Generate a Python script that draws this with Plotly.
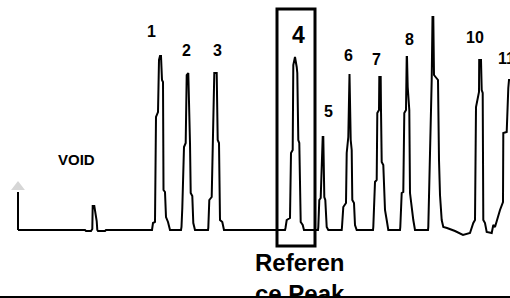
import plotly.graph_objects as go

# Chromatogram trace (retention position, detector response)
time = [18, 85, 86, 91, 92.3, 92.7, 94.3, 95.7, 96.7, 97.3, 98, 105, 106,
        152, 153, 155, 156, 158, 159, 160, 161, 162, 163, 163.5, 165, 166, 168, 170,
        181, 181.5, 182.3, 184, 185.7, 186.7, 188.3, 190, 190.7, 192.3, 193.3, 195,
        208, 208.3, 209.3, 211.7, 213.3, 214.3, 216.7, 217.7, 219, 220, 222.3, 224,
        285, 285.5, 286.7, 290, 291, 292.7, 293.3, 295, 296.7, 297.3, 298.3, 299.3, 300.7, 302.7, 304,
        318, 318.3, 319.3, 320.7, 321.7, 322.7, 323.3, 324.3, 325.3, 326.7, 328.3,
        341.7, 342, 343.3, 346, 346.7, 348.3, 349, 349.5, 350.7, 351.7, 352.3, 354, 355, 356.7,
        373, 373.3, 375, 376.7, 377.3, 379, 379.3, 380.7, 381, 381.7, 383.3, 385, 386.7, 388.3,
        400, 400.3, 401.7, 403.3, 404.3, 406, 406.7, 407, 407.7, 409.3, 410, 411.7, 413.3, 415,
        428, 428.3, 430, 431.7, 432.5, 433.3, 434, 436.7, 438, 439, 440, 441.7, 443.3,
        447, 455, 463, 470, 473.3, 475, 476, 478.3, 479, 479.2, 481, 481.7, 482.7, 483.3, 485, 486.7, 491.7,
        493.3, 495, 500, 503, 503.3, 506.7, 508.3, 509, 511, 513]
signal = [0, 0, -1, -1, 1, 24, 24, 16, 9, 0, -1, -1, 0,
          0, 7, 8, 113, 118, 170, 174, 174, 150, 148, 40, 38, 13, 8, 0,
          0, 3, 22, 83, 87, 155, 157, 87, 37, 34, 7, 0,
          0, 2, 30, 33, 127, 157, 157, 90, 87, 10, 8, 0,
          0, 2, 10, 12, 77, 80, 165, 173, 163, 157, 90, 87, 8, 5, 0,
          0, 3, 30, 32, 77, 93, 93, 33, 30, 3, 0,
          0, 3, 23, 27, 77, 93, 155, 156, 90, 80, 30, 27, 5, 0,
          0, 3, 48, 50, 117, 120, 153, 153, 120, 68, 65, 20, 10, 0,
          0, 3, 37, 38, 117, 120, 173, 173, 143, 120, 37, 20, 10, 0,
          0, 3, 70, 150, 213, 213, 155, 152, 150, 70, 35, 10, 3,
          2, -1, -5, -3, 7, 10, 123, 133, 138, 170, 170, 140, 137, 10, 7, -2, -3,
          5, 3, 20, 28, 97, 98, 142, 150, 150, 100]

# Injection marker
inject_t = [18, 18]
inject_h = [0, 38]
inject_head_h = [43]

# Peak labels
peak_labels = ["1", "2", "3", "4", "5", "6", "7", "8", "10", "11"]
label_t = [151, 186, 217, 298, 328, 348, 376, 409.5, 475, 506]
label_h = [199, 180, 180, 195, 119, 174.5, 171, 191, 192.5, 172]

void_label = "VOID"
void_t, void_h = 76.7, 71
ref_label = "Referen<br>ce Peak"
ref_peak_t = 296
ref_box_half = 19
ref_box_low, ref_box_high = -16, 221

FONT = "Liberation Sans, Arial, sans-serif"

fig = go.Figure()
fig.add_trace(go.Scatter(x=time, y=signal, mode="lines",
                         line=dict(color="black", width=2), hoverinfo="skip"))
fig.add_trace(go.Scatter(x=inject_t, y=inject_h, mode="lines",
                         line=dict(color="black", width=2), hoverinfo="skip"))
fig.add_trace(go.Scatter(x=[inject_t[0]], y=inject_head_h, mode="markers",
                         marker=dict(symbol="triangle-up", size=12, color="#d6d6d6",
                                     line=dict(width=0)), hoverinfo="skip"))

for lab, t, h in zip(peak_labels, label_t, label_h):
    big = lab == "4"
    fig.add_annotation(x=t, y=h, text=f"<b>{lab}</b>", showarrow=False,
                       xanchor="center", yanchor="middle",
                       font=dict(family=FONT, size=23 if big else 16, color="black"))

fig.add_annotation(x=void_t, y=void_h, text=f"<b>{void_label}</b>", showarrow=False,
                   xanchor="center", yanchor="middle",
                   font=dict(family=FONT, size=15, color="black"))

fig.add_annotation(x=ref_peak_t + 4, y=ref_box_low - 1, text=f"<b>{ref_label}</b>",
                   showarrow=False, xanchor="center", yanchor="top", align="center",
                   font=dict(family=FONT, size=24, color="black"))

fig.add_shape(type="rect", xref="x", yref="y",
              x0=ref_peak_t - ref_box_half, x1=ref_peak_t + ref_box_half,
              y0=ref_box_low, y1=ref_box_high,
              line=dict(color="black", width=3), fillcolor="rgba(0,0,0,0)")

fig.update_layout(
    width=510, height=298,
    margin=dict(l=0, r=0, t=0, b=2),
    paper_bgcolor="white", plot_bgcolor="white",
    showlegend=False,
    hovermode=False,
    xaxis=dict(range=[0, 510], showgrid=False, zeroline=False, showticklabels=False,
               ticks="", showline=True, linecolor="black", linewidth=3, fixedrange=True),
    yaxis=dict(range=[-66, 230], showgrid=False, zeroline=False, showticklabels=False,
               ticks="", showline=False, fixedrange=True),
)

fig.write_html("out.html", config={"displayModeBar": False, "staticPlot": True},
               post_script="document.body.style.margin='0';document.body.style.overflow='hidden';")
